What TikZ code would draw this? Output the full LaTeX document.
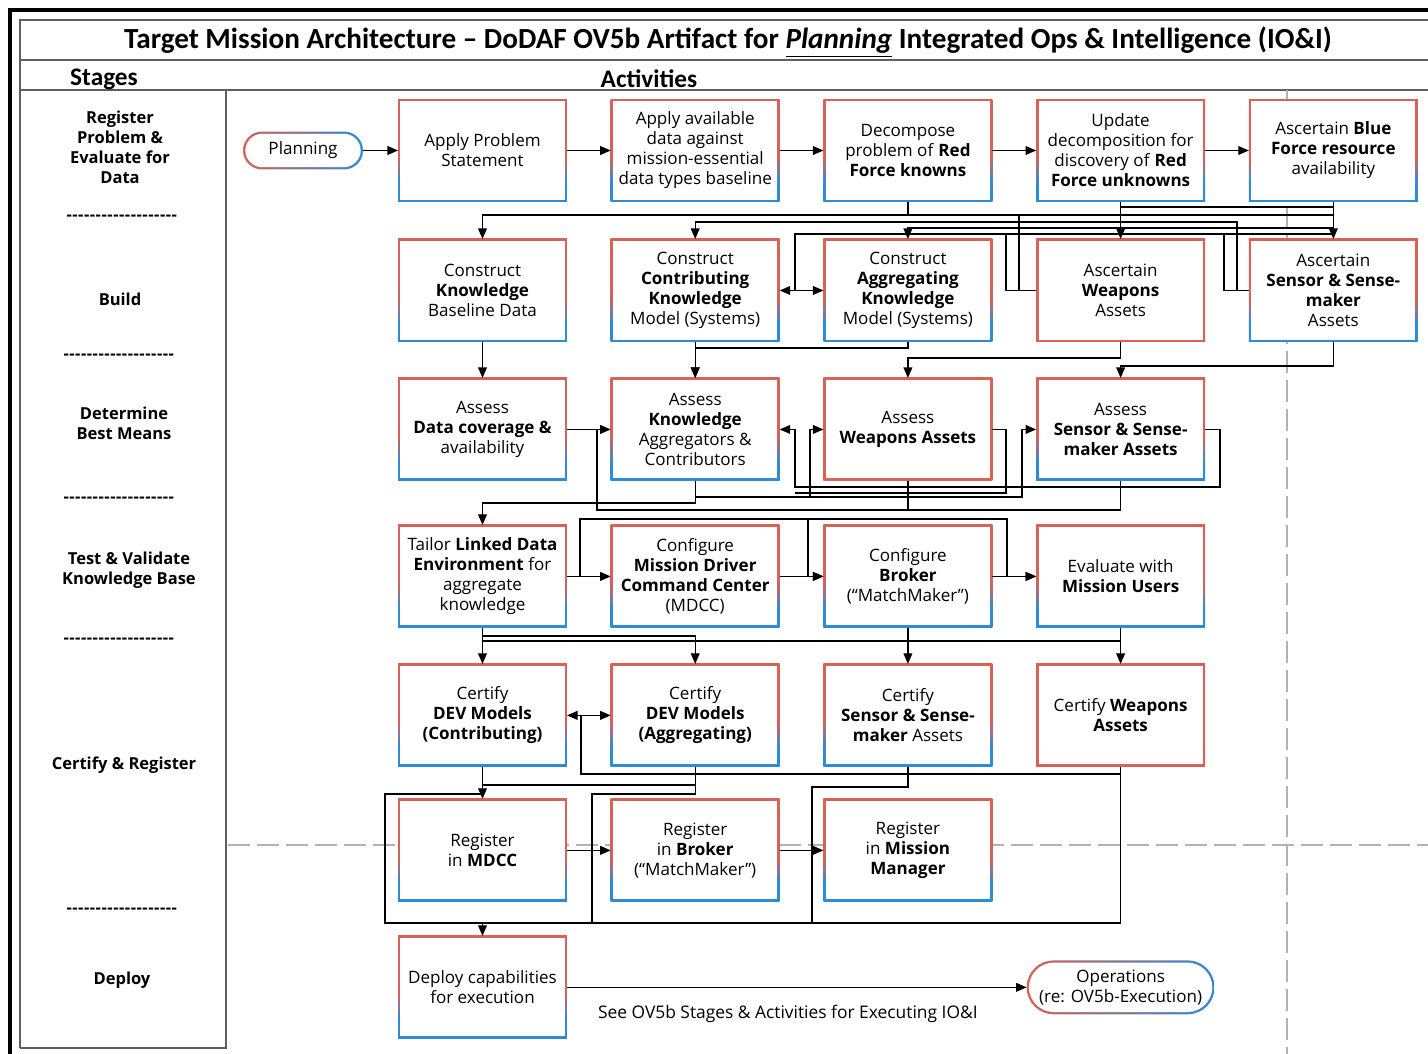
\documentclass[tikz,border=0pt]{standalone}
\usepackage{fontspec}
\setmainfont{Open Sans}
\newfontfamily\titlefont{Carlito}
\usepackage{xcolor}
\usetikzlibrary{arrows.meta,positioning,calc}

\definecolor{bred}{RGB}{214,98,88}
\definecolor{bblue}{RGB}{44,140,214}
\definecolor{framegray}{RGB}{95,95,95}
\definecolor{guidegray}{RGB}{178,178,178}

% border shadings of the activity boxes (red on top, blue at the bottom)
\pgfdeclareverticalshading{redblue}{100bp}{color(0bp)=(bblue); color(34bp)=(bblue); color(47bp)=(bred); color(100bp)=(bred)}
\pgfdeclareverticalshading{redonly}{100bp}{color(0bp)=(bred); color(100bp)=(bred)}

\newcommand{\stagerule}{\foreach \k in {1,...,19}{-\kern0.3pt}}

\begin{document}
\begin{tikzpicture}[
  x=0.02cm, y=-0.02cm,
  actbox/.style={shade, shading=redblue, minimum width=3.38cm, minimum height=2.06cm, inner sep=2pt, outer sep=0pt, align=center,
    font=\fontsize{9.7}{11.4}\selectfont,
    path picture={\fill[white] ([shift={(1.4pt,1.4pt)}]path picture bounding box.south west) rectangle ([shift={(-1.4pt,-1.4pt)}]path picture bounding box.north east);}},
  redbox/.style={actbox, shading=redonly},
  term/.style 2 args={shade, left color=bred, right color=bblue, rounded corners=#1, align=center, outer sep=0pt,
    font=\fontsize{9.7}{11.4}\selectfont,
    path picture={\fill[white, rounded corners=#2] ([shift={(1.3pt,1.3pt)}]path picture bounding box.south west) rectangle ([shift={(-1.3pt,-1.3pt)}]path picture bounding box.north east);}},
  stage/.style={font=\fontsize{9.4}{11.4}\selectfont\bfseries, align=center},
  head/.style={font=\titlefont\fontsize{14.4}{16}\selectfont\bfseries},
  lbl/.style={font=\fontsize{9.9}{11.4}\selectfont},
  arr/.style={-{Triangle[length=6pt,width=5pt]}, line width=0.7pt},
  darr/.style={{Triangle[length=6pt,width=5pt]}-{Triangle[length=6pt,width=5pt]}, line width=0.7pt},
  ln/.style={line width=0.7pt},
  guide/.style={draw=guidegray, line width=0.7pt, dash pattern=on 0.44cm off 0.14cm},
  node distance=0.74cm and 0.875cm
]
\useasboundingbox (0,0) rectangle (1428,1054);
\fill[white] (0,0) rectangle (1428,1054);

% frame
\draw[line width=0.08cm] (10,1054) -- (10,10) -- (1428,10);
\draw[framegray, line width=0.9pt] (20,1048) -- (20,20) -- (1428,20);
\draw[framegray, line width=0.9pt] (20,60) -- (1428,60);
\draw[framegray, line width=0.9pt] (20,90) -- (1428,90);
\draw[framegray, line width=0.9pt] (226,90) -- (226,1048) -- (20,1048);

\node[font=\titlefont\fontsize{16.6}{18}\selectfont\bfseries] (title) at (728,42)
  {Target Mission Architecture – DoDAF OV5b Artifact for \textit{\underline{Planning}} Integrated Ops \& Intelligence (IO\&I)};
\node[head] (stghead) at (104,79) {Stages};
\node[head] (acthead) at (649,79) {Activities};

% stages
\node[stage] (sreg) at (120,147) {Register\\Problem \&\\Evaluate for\\Data};
\node[stage] (sep1) at (122,218) {\stagerule};
\node[stage] (sbuild) at (120,299) {Build};
\node[stage] (sep2) at (119,357) {\stagerule};
\node[stage] (sbest) at (124,423) {Determine\\Best Means};
\node[stage] (sep3) at (119,500) {\stagerule};
\node[stage] (stest) at (129,570) {Test \& Validate\\Knowledge Base};
\node[stage] (sep4) at (119,641) {\stagerule};
\node[stage] (scert) at (124,765) {Certify \& Register};
\node[stage] (sep5) at (122,911) {\stagerule};
\node[stage] (sdeploy) at (122,980) {Deploy};

% guide lines
\draw[guide] (1287,90) -- (1287,1054);
\draw[guide] (228,845) -- (1428,845);

% activities
\node[actbox] (stmt) at (482.5,150.5) {Apply Problem\\Statement};
\node[term={0.38cm}{0.34cm}, minimum width=2.4cm, minimum height=0.76cm, left=0.7cm of stmt] (plan) {Planning};
\node[actbox, right=of stmt] (avail) {Apply available\\data against\\mission-essential\\data types baseline};
\node[actbox, right=of avail] (known) {Decompose\\problem of \textbf{Red}\\\textbf{Force knowns}};
\node[actbox, right=of known] (unknown) {Update\\decomposition for\\discovery of \textbf{Red}\\\textbf{Force unknowns}};
\node[actbox, right=of unknown] (blue) {Ascertain \textbf{Blue}\\\textbf{Force resource}\\availability};

\node[actbox, below=of stmt] (kbase) {Construct\\\textbf{Knowledge}\\Baseline Data};
\node[actbox, right=of kbase] (contrib) {Construct\\\textbf{Contributing}\\\textbf{Knowledge}\\Model (Systems)};
\node[actbox, right=of contrib] (aggr) {Construct\\\textbf{Aggregating}\\\textbf{Knowledge}\\Model (Systems)};
\node[redbox, right=of aggr] (weap) {Ascertain\\\textbf{Weapons}\\Assets};
\node[actbox, right=of weap] (sensor) {Ascertain\\\textbf{Sensor \& Sense-}\\\textbf{maker}\\Assets};

\node[actbox, below=0.72cm of kbase] (cover) {Assess\\\textbf{Data coverage \&}\\availability};
\node[actbox, right=of cover] (kagg) {Assess\\\textbf{Knowledge}\\Aggregators \&\\Contributors};
\node[redbox, right=of kagg] (aweap) {Assess\\\textbf{Weapons Assets}};
\node[actbox, right=of aweap] (asens) {Assess\\\textbf{Sensor \& Sense-}\\\textbf{maker Assets}};

\node[actbox, below=0.88cm of cover] (tailor) {Tailor \textbf{Linked Data}\\\textbf{Environment} for\\aggregate\\knowledge};
\node[actbox, right=of tailor] (mdcc) {Configure\\\textbf{Mission Driver}\\\textbf{Command Center}\\(MDCC)};
\node[actbox, right=of mdcc] (broker) {Configure\\\textbf{Broker}\\(“MatchMaker”)};
\node[actbox, right=of broker] (users) {Evaluate with\\\textbf{Mission Users}};

\node[actbox, below=0.72cm of tailor] (cdevc) {Certify\\\textbf{DEV Models}\\\textbf{(Contributing)}};
\node[actbox, right=of cdevc] (cdeva) {Certify\\\textbf{DEV Models}\\\textbf{(Aggregating)}};
\node[actbox, right=of cdeva] (csens) {Certify\\\textbf{Sensor \& Sense-}\\\textbf{maker} Assets};
\node[redbox, right=of csens] (cweap) {Certify \textbf{Weapons}\\\textbf{Assets}};

\node[actbox, below=0.64cm of cdevc] (rmdcc) {Register\\in \textbf{MDCC}};
\node[actbox, right=of rmdcc] (rbroker) {Register\\in \textbf{Broker}\\(“MatchMaker”)};
\node[actbox, right=of rbroker] (rmgr) {Register\\in \textbf{Mission}\\\textbf{Manager}};

\node[actbox, below=0.68cm of rmdcc] (deploy) {Deploy capabilities\\for execution};
\node[term={0.54cm}{0.5cm}, minimum width=3.76cm, minimum height=1.08cm] (ops) at (deploy -| cweap) {Operations\\(re: OV5b-Execution)};

% lane coordinates
\coordinate (y207) at (0,207);
\coordinate (y215) at (0,215);
\coordinate (y222) at (0,222);
\coordinate (y228) at (0,228);
\coordinate (y234) at (0,234);
\coordinate (y348) at (0,348);
\coordinate (y358) at (0,358);
\coordinate (y366) at (0,366);
\coordinate (y487) at (0,487);
\coordinate (y493) at (0,493);
\coordinate (y497) at (0,497);
\coordinate (y503) at (0,503);
\coordinate (y510) at (0,510);
\coordinate (y519) at (0,519);
\coordinate (y636) at (0,636);
\coordinate (y641) at (0,641);
\coordinate (y774) at (0,774);
\coordinate (y785) at (0,785);
\coordinate (y787) at (0,787);
\coordinate (y794) at (0,794);
\coordinate (y923) at (0,923);
\coordinate (x385) at (385,0);
\coordinate (x580) at (580,0);
\coordinate (x581) at (581,0);
\coordinate (x592) at (592,0);
\coordinate (x597) at (597,0);
\coordinate (x795) at (795,0);
\coordinate (x808) at (808,0);
\coordinate (x810) at (810,0);
\coordinate (x812) at (812,0);
\coordinate (x1006) at (1006,0);
\coordinate (x1007) at (1007,0);
\coordinate (x1019) at (1019,0);
\coordinate (x1022) at (1022,0);
\coordinate (x1220) at (1220,0);
\coordinate (x1224) at (1224,0);
\coordinate (x1237) at (1237,0);

% planning row
\draw[arr] (plan) -- (stmt);
\draw[arr] (stmt) -- (avail);
\draw[arr] (avail) -- (known);
\draw[arr] (known) -- (unknown);
\draw[arr] (unknown) -- (blue);

% into build row
\draw[arr] (known.south) |- (kbase.north |- y215) -- (kbase.north);
\draw[ln] (blue.south) |- (known.south |- y215);
\draw[ln] (known.south) |- (x1019 |- y215) |- (weap.west);
\draw[arr] (unknown.south) -- (weap.north);
\draw[ln] (unknown.south) |- (blue.south |- y207);
\draw[arr] (blue.south) -- (sensor.north);
\draw[arr] (unknown.south) |- (contrib.north |- y222) -- (contrib.north);
\draw[ln] (unknown.south) |- (x1237 |- y222) |- (sensor.west);
\draw[arr] (blue.south) |- (aggr.north |- y228) -- (aggr.north);
\draw[ln] (blue.south) |- (x795 |- y234) -- (x795 |- contrib.east);
\draw[ln] (blue.south) |- (x1006 |- y234) |- (weap.west);
\draw[ln] (blue.south) |- (x1224 |- y234) |- (sensor.west);
\draw[darr] (contrib) -- (aggr);

% into best means row
\draw[arr] (kbase) -- (cover);
\draw[arr] (contrib) -- (kagg);
\draw[arr] (aggr.south) |- (kagg.north |- y348) -- (kagg.north);
\draw[arr] (weap.south) |- (aweap.north |- y358) -- (aweap.north);
\draw[arr] (sensor.south) |- (asens.north |- y366) -- (asens.north);

\draw[arr] (cover) -- (kagg);
\draw[ln] (aweap.south) |- (x597 |- y510) -- (x597 |- cover.east);
\draw[ln] (asens.south) |- (aweap.south |- y510);
\draw[arr] (asens.east) -- (x1220 |- asens.east) |- (x795 |- y487) |- (kagg.east);
\draw[ln] (aweap.east) -- (x1006 |- aweap.east) |- (x795 |- y493);
\draw[arr] (kagg.south) |- (x810 |- y497) |- (aweap.west);
\draw[arr] (kagg.south) |- (x1022 |- y497) |- (asens.west);

% test and validate row
\draw[arr] (kagg.south) |- (tailor.north |- y503) -- (tailor.north);
\draw[arr] (tailor) -- (mdcc);
\draw[arr] (mdcc) -- (broker);
\draw[arr] (broker) -- (users);
\draw[arr] (tailor.east) -- (x580 |- tailor.east) |- (x1007 |- y519) |- (users.west);
\draw[arr] (tailor.east) -- (x580 |- tailor.east) |- (x808 |- y519) |- (broker.west);

% certify row
\draw[arr] (tailor) -- (cdevc);
\draw[arr] (tailor.south) |- (cdeva.north |- y636) -- (cdeva.north);
\draw[ln] (users.south) |- (tailor.south |- y641);
\draw[arr] (broker) -- (csens);
\draw[arr] (users) -- (cweap);
\draw[darr] (cdevc) -- (cdeva);
\draw[ln] (cweap.south) |- (x581 |- y774) -- (x581 |- cdevc.east);

% register row and deploy
\draw[arr] (cdevc) -- (rmdcc);
\draw[ln] (cdeva.south) |- (cdevc.south |- y785);
\draw[arr] (cdevc.south) |- (x385 |- y794) |- (deploy.north |- y923) -- (deploy.north);
\draw[ln] (cdeva.south) |- (x592 |- y794) |- (deploy.north |- y923);
\draw[ln] (csens.south) |- (x812 |- y787) |- (deploy.north |- y923);
\draw[ln] (cweap.south) |- (deploy.north |- y923);
\draw[arr] (rmdcc) -- (rbroker);
\draw[arr] (rbroker) -- (rmgr);

\draw[arr] (deploy.east) -- node[lbl, below=0.22cm, xshift=-0.18cm] {See OV5b Stages \& Activities for Executing IO\&I} (ops.west);

\end{tikzpicture}
\end{document}
